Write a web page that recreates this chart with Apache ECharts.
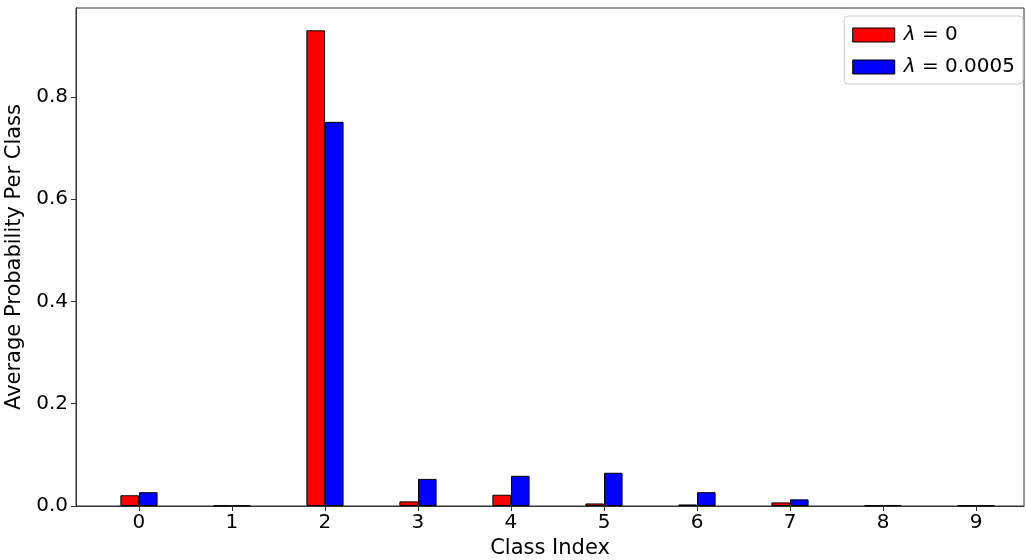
<!DOCTYPE html>
<html><head><meta charset="utf-8">
<script src="https://cdn.jsdelivr.net/npm/echarts@6/dist/echarts.min.js"></script>
<style>html,body{margin:0;padding:0;background:#fff}#c{width:1026px;height:560px}</style>
</head><body><div id="c"></div>
<script>
const classes = [0,1,2,3,4,5,6,7,8,9];
const lambda0 = [0.021,0.0008,0.930,0.009,0.022,0.005,0.003,0.007,0.001,0.001];
const lambda5e4 = [0.027,0.001,0.751,0.053,0.059,0.065,0.027,0.013,0.002,0.001];
const seriesNames = ['λ = 0','λ = 0.0005'];
const yTicks = [0,0.2,0.4,0.6,0.8];

const font = 'DejaVu Sans';
const chart = echarts.init(document.getElementById('c'), null, {renderer:'canvas'});
chart.setOption({
  animation:false,
  backgroundColor:'#fff',
  textStyle:{fontFamily:font},
  grid:{left:76,right:2,top:8,bottom:54,outerBoundsMode:'none',containLabel:false,show:true,borderColor:'#333',borderWidth:1,backgroundColor:'transparent'},
  legend:{
    right:3, top:16, orient:'vertical', icon:'rect',
    itemWidth:42, itemHeight:14, itemGap:12,
    padding:[9,8,7,8],
    borderColor:'#ccc', borderWidth:1, borderRadius:4, backgroundColor:'#fff',
    textStyle:{fontFamily:font,fontSize:20,color:'#000',padding:[0,0,0,4],rich:{it:{fontStyle:'italic',fontFamily:font,fontSize:20,color:'#000'}}},
    formatter:function(n){return n.replace('λ','{it|λ}');},
    data:seriesNames.map(n=>({name:n,itemStyle:{borderColor:'#000',borderWidth:1}}))
  },
  xAxis:{
    type:'value', min:-0.677, max:9.516,
    name:'Class Index', nameLocation:'middle', nameGap:32,
    nameTextStyle:{fontFamily:font,fontSize:21,color:'#000'},
    axisLine:{show:true,onZero:false,lineStyle:{color:'#333',width:1}},
    axisTick:{show:true,length:5,lineStyle:{color:'#333'},customValues:classes},
    axisLabel:{fontFamily:font,fontSize:20,color:'#000',margin:7,customValues:classes,formatter:v=>String(Math.round(v))},
    splitLine:{show:false}
  },
  yAxis:{
    type:'value', min:0, max:0.9736, interval:0.2,
    name:'Average Probability Per Class', nameLocation:'middle', nameGap:41,
    nameTextStyle:{fontFamily:font,fontSize:21,color:'#000'},
    axisLine:{show:true,onZero:false,lineStyle:{color:'#333',width:1}},
    axisTick:{show:true,length:5,lineStyle:{color:'#333'},customValues:yTicks},
    axisLabel:{fontFamily:font,fontSize:20,color:'#000',margin:8,customValues:yTicks,formatter:v=>v.toFixed(1)},
    splitLine:{show:false}
  },
  series:[
    {name:seriesNames[0],type:'bar',barWidth:18.6,barGap:'0%',
     itemStyle:{color:'#ff0000',borderColor:'#000',borderWidth:1},
     data:classes.map((c,i)=>[c,lambda0[i]])},
    {name:seriesNames[1],type:'bar',barWidth:18.6,barGap:'0%',
     itemStyle:{color:'#0000ff',borderColor:'#000',borderWidth:1},
     data:classes.map((c,i)=>[c,lambda5e4[i]])}
  ]
});
</script></body></html>
